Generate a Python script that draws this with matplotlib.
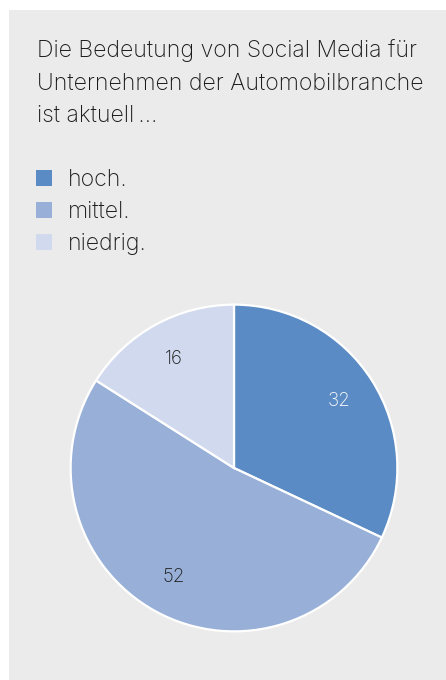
import matplotlib
matplotlib.use("Agg")
import matplotlib.pyplot as plt
from matplotlib.patches import Rectangle

# Survey shares (percent)
categories = ["hoch.", "mittel.", "niedrig."]
values = [32, 52, 16]
colors = ["#5b8bc4", "#98b0d8", "#d0d9ed"]
label_colors = ["white", "#1a1a1a", "#1a1a1a"]
title_lines = [
    "Die Bedeutung von Social Media für",
    "Unternehmen der Automobilbranche",
    "ist aktuell\u2009…",
]

plt.rcParams["font.family"] = ["Inter", "DejaVu Sans"]
FS = 16.6

W, H = 446, 680
fig = plt.figure(figsize=(W / 100, H / 100), dpi=100)
fig.patch.set_facecolor("white")

# Gray panel behind everything
fig.patches.append(Rectangle((9 / W, 0), 1 - 9 / W, 1 - 10 / H,
                             transform=fig.transFigure, facecolor="#ebebeb",
                             edgecolor="none", zorder=-10))

# Title
for i, line in enumerate(title_lines):
    fig.text(37 / W, 1 - (57 + i * 32.5) / H, line, fontsize=FS,
             fontweight="light", color="#1a1a1a", ha="left", va="baseline")

# Legend
for i, (cat, col) in enumerate(zip(categories, colors)):
    top = 170 + i * 32
    fig.patches.append(Rectangle((36 / W, 1 - (top + 16) / H), 16 / W, 16 / H,
                                 transform=fig.transFigure, facecolor=col,
                                 edgecolor="none", zorder=-5))
    fig.text(68 / W, 1 - (top + 16) / H, cat, fontsize=FS, fontweight="light",
             color="#1a1a1a", ha="left", va="baseline")

# Pie
cx, cy, r = 234, 468, 165
ax = fig.add_axes([(cx - r) / W, (H - cy - r) / H, 2 * r / W, 2 * r / H])
ax.set_zorder(5)
wedges, texts = ax.pie(values, colors=colors, startangle=90, counterclock=False,
                       labels=[str(v) for v in values], labeldistance=0.76,
                       wedgeprops=dict(edgecolor="white", linewidth=1.6),
                       textprops=dict(fontsize=13.5, fontweight="light"))
for t, c in zip(texts, label_colors):
    t.set_color(c)
    t.set_ha("center")
    t.set_va("center")
ax.set_xlim(-1.01, 1.01)
ax.set_ylim(-1.01, 1.01)
ax.set_aspect("equal")
ax.axis("off")

fig.savefig("out.png", dpi=100, facecolor=fig.get_facecolor())
